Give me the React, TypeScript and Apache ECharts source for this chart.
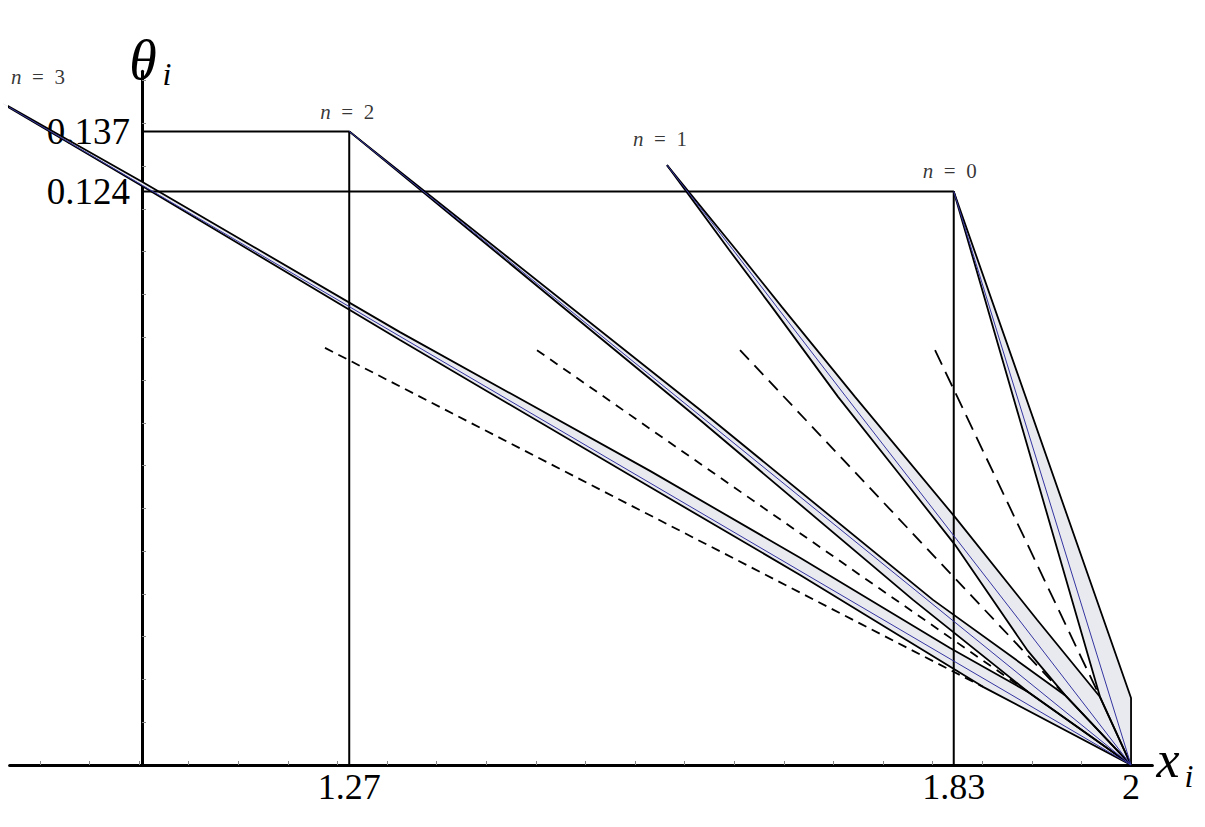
import React, { useEffect, useRef } from "react";
import * as echarts from "echarts";

// ---- axis ticks / labels ----
const xLabelValues = [1.268, 1.834, 2];
const yLabelValues = [0.124, 0.137];
const xTickStep = 0.04644;
const yTickStep = 0.00925;
const xTicks = Array.from({ length: 22 }, (_, i) => 2 - (i + 1) * xTickStep);
const yTicks = Array.from({ length: 16 }, (_, i) => (i + 1) * yTickStep);
const yAxisX = 1.074;

// ---- band n = 0 ----
const high0 = [[1.834, 0.124], [2.0, 0.0145], [2.0, 0]];
const mid0 = [[1.834, 0.124], [2.0, 0]];
const low0 = [[1.834, 0.124], [1.971, 0.0147], [2.0, 0]];
const dash0 = [[1.8165, 0.0897], [1.971, 0.0147]];

// ---- band n = 1 ----
const high1 = [[1.5655, 0.1297], [1.6302, 0.1114], [1.6732, 0.099], [1.7416, 0.0796], [1.8352, 0.0536], [1.912, 0.0314], [1.971, 0.0147], [2.0, 0]];
const mid1 = [[1.5655, 0.1297], [1.6273, 0.1114], [1.6685, 0.099], [1.7332, 0.0796], [1.8951, 0.0314], [2.0, 0]];
const low1 = [[1.5655, 0.1297], [1.6236, 0.1114], [1.6639, 0.099], [1.7257, 0.0796], [1.7837, 0.0627], [1.8352, 0.0476], [1.9026, 0.0249], [1.9382, 0.0151], [2.0, 0]];
const dash1 = [[1.6339, 0.0897], [1.9382, 0.0151]];

// ---- band n = 2 ----
const high2 = [[1.268, 0.137], [1.5964, 0.0768], [1.8146, 0.0357], [1.9382, 0.0151], [2.0, 0]];
const mid2 = [[1.268, 0.137], [2.0, 0]];
const low2 = [[1.268, 0.137], [1.5964, 0.0746], [1.7959, 0.0357], [1.9036, 0.0158], [2.0, 0]];
const dash2 = [[1.4438, 0.0897], [1.9036, 0.0158]];

// ---- band n = 3 ----
const high3 = [[0.9438, 0.1431], [1.074, 0.1261], [1.3155, 0.0936], [1.5496, 0.0636], [1.6901, 0.0448], [1.8305, 0.0253], [1.9036, 0.0158], [2.0, 0]];
const mid3 = [[0.9438, 0.143], [2.0, 0]];
const low3 = [[0.9438, 0.1429], [1.074, 0.1252], [1.3155, 0.0919], [1.5496, 0.0601], [1.6901, 0.0411], [1.8614, 0.0169], [2.0, 0]];
const dash3 = [[1.2453, 0.0902], [1.8614, 0.0169]];

// ---- reference lines ----
const ref137 = [[yAxisX, 0.137], [1.268, 0.137], [1.268, 0]];
const ref124 = [[yAxisX, 0.124], [1.834, 0.124], [1.834, 0]];

// ---- peak labels ----
const peakNames = ["3", "2", "1", "0"];
const peakPoints = [[0.9438, 0.1431], [1.268, 0.137], [1.5655, 0.1297], [1.834, 0.124]];
const peakOffsets = [[35, -16], [-2, -9], [-7, -16], [-4, -10]];

const highs = [high0, high1, high2, high3];
const mids = [mid0, mid1, mid2, mid3];
const lows = [low0, low1, low2, low3];
const dashes = [dash0, dash1, dash2, dash3];
const dashPatterns = [[16, 8], [13, 8], [9, 7], [9, 6]];

const SERIF = '"Liberation Serif", "Times New Roman", serif';

export default function App() {
  const ref = useRef<HTMLDivElement>(null);
  useEffect(() => {
    if (!ref.current) return;
    const chart = echarts.init(ref.current, null, { renderer: "svg" });
    const gridLeft = 9.6;
    const series: any[] = [];
    series.push({
      type: "custom",
      z: 1,
      silent: true,
      clip: false,
      encode: { x: 0, y: 1 },
      data: [[2, 0, 0], [2, 0, 1], [2, 0, 2], [2, 0, 3]],
      renderItem: (params: any, api: any) => {
        const b = api.value(2);
        const pts = highs[b].concat(lows[b].slice().reverse()).map((p) => api.coord(p));
        return { type: "polygon", shape: { points: pts }, style: { fill: "#e9eaef", stroke: "none" } };
      },
    });
    const lineBase = (data: number[][], color: string, width: number, type: any = "solid", z = 3) => ({
      type: "line",
      data,
      showSymbol: false,
      symbol: "none",
      clip: false,
      silent: true,
      z,
      lineStyle: { color, width, type },
    });
    for (let b = 0; b < 4; b++) {
      series.push(lineBase(highs[b], "#000", 1.8));
      series.push(lineBase(lows[b], "#000", 1.8));
      series.push(lineBase(mids[b], "#3434a0", 1, "solid", 4));
      series.push(lineBase(dashes[b], "#000", 1.8, dashPatterns[b]));
    }
    series.push(lineBase(ref137, "#000", 2));
    series.push(lineBase(ref124, "#000", 2));
    series.push({
      type: "scatter",
      clip: false,
      symbolSize: 0,
      silent: true,
      z: 5,
      data: peakPoints.map((p, i) => ({
        value: p,
        name: peakNames[i],
        label: { offset: peakOffsets[i] },
      })),
      label: {
        show: true,
        position: "top",
        distance: 0,
        formatter: (p: any) => "{i|n}{r|\u2002=\u2002" + p.name + "}",
        rich: {
          i: { fontFamily: SERIF, fontStyle: "italic", fontSize: 21, color: "#000" },
          r: { fontFamily: SERIF, fontSize: 21, color: "#000" },
        },
      },
    });

    chart.setOption({
      animation: false,
      backgroundColor: "#fff",
      grid: { left: gridLeft, right: 52.6, top: 71.25, bottom: 62, containLabel: false, outerBoundsMode: "none" },
      xAxis: {
        type: "value",
        min: 0.95,
        max: 2.02,
        axisLine: { show: true, onZero: false, lineStyle: { color: "#000", width: 3 } },
        axisTick: { show: true, inside: true, length: 4, customValues: xTicks, lineStyle: { color: "#888", width: 1 } },
        axisLabel: {
          show: true,
          customValues: xLabelValues,
          formatter: (v: number) => (v === 2 ? "2" : v.toFixed(2)),
          fontFamily: SERIF,
          fontSize: 36,
          color: "#000",
          margin: 4,
        },
        splitLine: { show: false },
      },
      yAxis: {
        type: "value",
        min: 0,
        max: 0.15,
        position: "left",
        offset: -(142 - gridLeft),
        axisLine: { show: true, onZero: false, lineStyle: { color: "#000", width: 3 } },
        axisTick: { show: true, inside: true, length: 4, customValues: yTicks, lineStyle: { color: "#888", width: 1 } },
        axisLabel: {
          show: true,
          customValues: yLabelValues,
          formatter: (v: number) => v.toFixed(3),
          fontFamily: SERIF,
          fontSize: 37,
          color: "#000",
          margin: 12,
        },
        splitLine: { show: false },
      },
      graphic: [
        { type: "text", x: 143, y: 60, style: { text: "θ", font: `italic 56px ${SERIF}`, fill: "#000", align: "center", verticalAlign: "middle" } },
        { type: "text", x: 167, y: 74, style: { text: "i", font: `italic 32px ${SERIF}`, fill: "#000", align: "center", verticalAlign: "middle" } },
        { type: "text", x: 1168, y: 759, style: { text: "x", font: `italic 52px ${SERIF}`, fill: "#000", align: "center", verticalAlign: "middle" } },
        { type: "text", x: 1189, y: 776, style: { text: "i", font: `italic 32px ${SERIF}`, fill: "#000", align: "center", verticalAlign: "middle" } },
      ],
      series,
    });
    return () => chart.dispose();
  }, []);
  return <div ref={ref} style={{ position: "absolute", left: 0, top: 0, width: 1205, height: 827, background: "#fff" }} />;
}
